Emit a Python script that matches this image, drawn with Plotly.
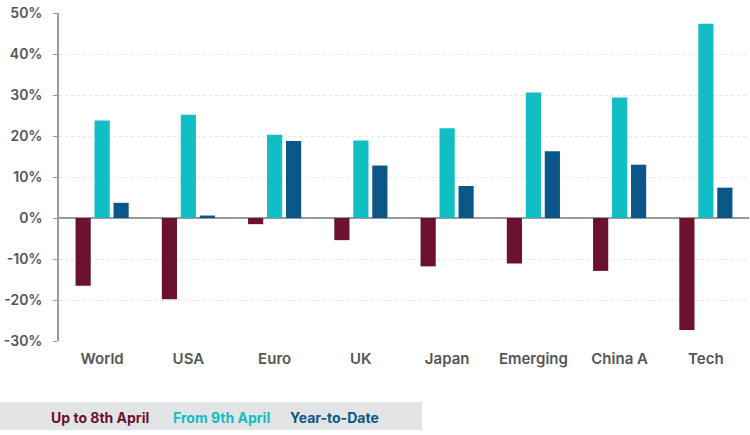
import plotly.graph_objects as go

# Dados (retornos em %)
regioes = ['World', 'USA', 'Euro', 'UK', 'Japan', 'Emerging', 'China A', 'Tech']
ate_8_abril = [-16.5, -19.8, -1.5, -5.4, -11.8, -11.1, -12.9, -27.3]
desde_9_abril = [23.8, 25.2, 20.3, 18.9, 21.9, 30.6, 29.4, 47.4]
acumulado_ano = [3.7, 0.6, 18.8, 12.8, 7.8, 16.3, 13.0, 7.4]

nomes_series = ['Up to 8th April', 'From 9th April', 'Year-to-Date']
cores = ['#6d1131', '#10bec4', '#0a5687']
ticks_y = [-30, -20, -10, 0, 10, 20, 30, 40, 50]

fonte = 'Inter'
cinza_texto = '#555555'

fig = go.Figure()
for nome, valores, cor in zip(nomes_series, [ate_8_abril, desde_9_abril, acumulado_ano], cores):
    fig.add_trace(go.Bar(
        x=regioes,
        y=valores,
        name=nome,
        marker=dict(color=cor, line=dict(width=0)),
    ))

# Faixa cinza da legenda com textos coloridos
fig.add_shape(type='rect', xref='paper', yref='paper',
              x0=-59 / 690, x1=(422 - 59) / 690, y0=-89 / 328, y1=-61 / 328,
              fillcolor='#e3e4e6', line=dict(width=0), layer='below')
posicoes_legenda = [100, 221, 334]
for nome, cor, xp in zip(nomes_series, cores, posicoes_legenda):
    fig.add_annotation(
        text=nome, xref='paper', yref='paper',
        x=(xp - 59) / 690, y=-76 / 328, showarrow=False,
        xanchor='center', yanchor='middle',
        font=dict(family=fonte, size=14, color=cor, weight=700),
    )

fig.update_layout(
    width=750, height=435,
    margin=dict(l=59, r=1, t=13, b=94, autoexpand=False),
    barmode='group',
    bargap=0.34,
    bargroupgap=0.2,
    showlegend=False,
    plot_bgcolor='white',
    paper_bgcolor='white',
    font=dict(family=fonte, color=cinza_texto),
    xaxis=dict(
        automargin=False,
        showgrid=False,
        showline=False,
        ticks='outside', ticklen=4, tickcolor='rgba(0,0,0,0)',
        tickfont=dict(size=15, color=cinza_texto, weight=600),
    ),
    yaxis=dict(
        automargin=False,
        range=[-30, 50],
        tickvals=ticks_y,
        ticktext=[f'{v}%' for v in ticks_y],
        showgrid=True, gridcolor='#e6e6e6', griddash='dot', gridwidth=1,
        showline=True, linecolor='#999999', linewidth=1.5,
        ticks='outside', ticklen=4, tickcolor='#999999',
        ticklabelstandoff=8,
        zeroline=True, zerolinecolor='#999999', zerolinewidth=1.5,
        tickfont=dict(size=14, color=cinza_texto, weight=600),
    ),
)

# tira a margem padrão da página para o gráfico ocupar a janela toda
fig.write_html('out.html', config={'displayModeBar': False},
               post_script="document.body.style.margin='0';")
